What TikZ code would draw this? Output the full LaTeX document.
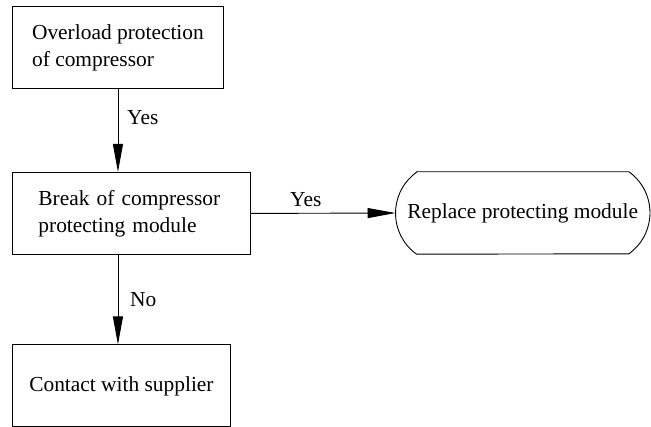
\documentclass[tikz,border=0pt]{standalone}
\usepackage{fontspec}
\setmainfont{Liberation Serif}
\usetikzlibrary{arrows.meta,calc}
\begin{document}
\begin{tikzpicture}[x=1pt,y=-1pt,
  every node/.style={font=\fontsize{21.4}{27}\selectfont},
  procbox/.style={draw,line width=0.9pt,minimum height=82pt,inner sep=0pt,align=left,anchor=north west},
  termbox/.style={minimum width=254pt,minimum height=82pt,inner sep=0pt},
  termline/.style={line width=0.9pt},
  flow/.style={line width=0.9pt,-{Triangle[length=28pt,width=10pt]}},
  lbl/.style={inner sep=0pt,anchor=base west}]
\useasboundingbox (0,0) rectangle (651,427);

% process boxes
\node[procbox,minimum width=211pt] (overload) at (12,6) {Overload protection\\of compressor};
\node[procbox,text width=186pt,inner xsep=26pt] (brk) at (12,172) {Break of compressor\\protecting module};
\node[procbox,minimum width=218pt] (contact) at (12,344.5) {Contact with supplier};

% terminal with bowed ends
\node[termbox] (replace) at (522.75,213) {Replace protecting module};
\draw[termline] ($(replace.north west)+(21,0)$) -- ($(replace.north east)+(-21,0)$)
  arc[start angle=-54.3,end angle=54.3,radius=50.5]
  -- ($(replace.south west)+(21,0)$)
  arc[start angle=125.7,end angle=234.3,radius=50.5] -- cycle;

% connectors
\draw[flow] (overload.south) -- (overload.south |- brk.north);
\draw[flow] (overload.south |- brk.south) -- (overload.south |- contact.north);
\draw[flow] (brk.east) -- (replace.west);

% connector labels
\node[lbl] (yes1) at (127,125) {Yes};
\node[lbl] (no1) at (130,307) {No};
\node[lbl] (yes2) at (290,207) {Yes};
\end{tikzpicture}
\end{document}
